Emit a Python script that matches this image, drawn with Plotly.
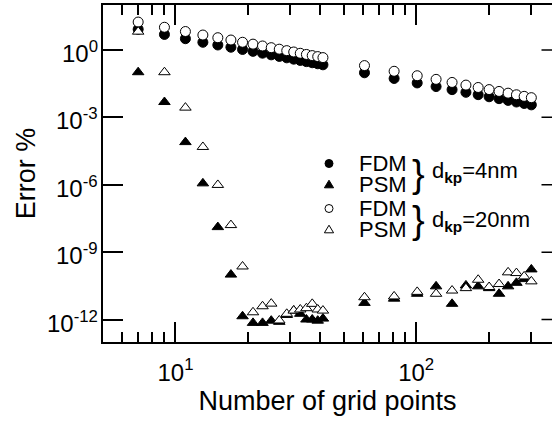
import math
import plotly.graph_objects as go

# ---------------- data ----------------
grid_points = [7, 9, 11, 13, 15, 17, 19, 21, 23, 25, 27, 29, 31, 33, 35, 37, 39, 41,
               61, 81, 101, 121, 141, 161, 181, 201, 221, 241, 261, 281, 301]

fdm_4nm = [8.3, 4.9, 3.16, 2.19, 1.66, 1.32, 1.05, 0.865, 0.718, 0.604, 0.515, 0.445,
           0.388, 0.341, 0.302, 0.269, 0.242, 0.218,
           0.0962, 0.0537, 0.034, 0.0234, 0.0171, 0.013, 0.0102, 0.00824, 0.00678,
           0.00568, 0.00481, 0.00413, 0.00359]

psm_4nm = [0.102, 4.8e-3, 7.9e-5, 1.15e-6, 1.3e-8, 1.0e-10, 1.4e-12, 7.1e-13, 7.1e-13,
           8.9e-13, 7.9e-13, 1.6e-12, 2.5e-12, 1.8e-12, 1.0e-12, 1.0e-12, 8.9e-13, 1.1e-12,
           5.5e-12, 8.5e-12, 1.4e-11, 3.0e-11, 5.0e-12, 3.3e-11, 3.0e-11, 2.5e-11, 1.4e-11,
           3.0e-11, 4.3e-11, 6.3e-11, 1.7e-10]

fdm_20nm = [17.4, 10.2, 6.6, 4.6, 3.5, 2.76, 2.19, 1.81, 1.5, 1.26, 1.08, 0.93, 0.81,
            0.71, 0.63, 0.56, 0.506, 0.456,
            0.201, 0.112, 0.071, 0.049, 0.0357, 0.0272, 0.0213, 0.0172, 0.0142, 0.0119,
            0.0101, 0.0086, 0.0075]

psm_20nm = [6.5, 0.102, 2.7e-3, 4.8e-5, 9.8e-7, 1.6e-8, 2.3e-10, 2.1e-12, 3.9e-12, 5.1e-12,
            9.1e-13, 1.8e-12, 2.5e-12, 2.8e-12, 3.2e-12, 5.0e-12, 2.8e-12, 2.5e-12,
            9.8e-12, 1.07e-11, 1.7e-11, 1.4e-11, 1.95e-11, 2.5e-11, 5.9e-11, 2.8e-11,
            3.8e-11, 1.26e-10, 1.17e-10, 8.3e-11, 5.0e-11]

x_major_ticks = [10, 100]
x_major_text = ["10<sup>1</sup>", "10<sup>2</sup>"]
x_minor_ticks = [6, 7, 8, 9, 20, 30, 40, 50, 60, 70, 80, 90, 200, 300]
y_ticks = [1, 1e-3, 1e-6, 1e-9, 1e-12]
y_ticks_text = ["10<sup>0</sup>", "10<sup>-3</sup>", "10<sup>-6</sup>",
                "10<sup>-9</sup>", "10<sup>-12</sup>"]

x_range = [math.log10(5), 2.5644]
y_range = [-13, 2]

FONT = "Liberation Sans, Arial, Helvetica, sans-serif"

fig = go.Figure()

series = [
    ("FDM d=4nm", fdm_4nm, "circle", "black"),
    ("PSM d=4nm", psm_4nm, "triangle-up", "black"),
    ("FDM d=20nm", fdm_20nm, "circle", "white"),
    ("PSM d=20nm", psm_20nm, "triangle-up", "white"),
]
for name, vals, sym, fill in series:
    fig.add_trace(go.Scatter(
        x=grid_points, y=vals, mode="markers", name=name, showlegend=False,
        marker=dict(symbol=sym, size=10, color=fill,
                    line=dict(color="black", width=1)),
    ))

W, H = 552, 423
ml, mr, mt, mb = 103, 0, 5, 81
pw, ph = W - ml - mr, H - mt - mb


def px2paper(px, py):
    return (px - ml) / pw, (H - mb - py) / ph


shapes = []
annotations = []

# y tick labels and right-side ticks (plot frame extends past the picture's right edge)
for v, t in zip(y_ticks, y_ticks_text):
    yp = (math.log10(v) - y_range[0]) / (y_range[1] - y_range[0])
    shapes.append(dict(type="line", xref="paper", yref="paper",
                       x0=1 - 10.5 / pw, x1=1.05, y0=yp, y1=yp,
                       line=dict(color="black", width=1.5)))
    annotations.append(dict(text=t, x=-3.5 / pw, y=math.log10(v), xref="paper", yref="y",
                            xanchor="right", yanchor="middle", yshift=-2, showarrow=False,
                            font=dict(family=FONT, size=24, color="black")))

# legend markers
leg_x = 329
rows = [163.5, 184.5, 208.5, 229.5]
kinds = [("circle", "black"), ("tri", "black"), ("circle", "white"), ("tri", "white")]
for (kind, fill), ry in zip(kinds, rows):
    xa, ya = px2paper(leg_x, ry)
    if kind == "circle":
        shapes.append(dict(type="circle", xref="paper", yref="paper",
                           xsizemode="pixel", ysizemode="pixel",
                           xanchor=xa, yanchor=ya, x0=-4, x1=4, y0=-4, y1=4,
                           fillcolor=fill, line=dict(color="black", width=1)))
    else:
        shapes.append(dict(type="path", xref="paper", yref="paper",
                           xsizemode="pixel", ysizemode="pixel",
                           xanchor=xa, yanchor=ya,
                           path="M -4.6,-3.3 L 4.6,-3.3 L 0,4.3 Z",
                           fillcolor=fill, line=dict(color="black", width=1)))

for txt, ry in zip(["FDM", "PSM", "FDM", "PSM"], rows):
    xa, ya = px2paper(358, ry)
    annotations.append(dict(text=txt, x=xa, y=ya, xref="paper", yref="paper",
                            xanchor="left", yanchor="middle", showarrow=False,
                            height=19, valign="middle", borderpad=0,
                            font=dict(family=FONT, size=22, color="black")))
for bc, tc, lab in [(174, 172, "d<sub><b>kp</b></sub>=4nm"),
                    (220, 221, "d<sub><b>kp</b></sub>=20nm")]:
    xa, ya = px2paper(418, bc)
    annotations.append(dict(text="}", x=xa, y=ya, xref="paper", yref="paper",
                            xanchor="center", yanchor="middle", showarrow=False,
                            font=dict(family=FONT, size=38, color="black")))
    xa, ya = px2paper(430, tc)
    annotations.append(dict(text=lab, x=xa, y=ya, xref="paper", yref="paper",
                            xanchor="left", yanchor="middle", showarrow=False,
                            font=dict(family=FONT, size=22, color="black")))

fig.update_layout(
    width=W, height=H,
    margin=dict(l=ml, r=mr, t=mt, b=mb, pad=0),
    paper_bgcolor="white", plot_bgcolor="white",
    font=dict(family=FONT, size=24, color="black"),
    shapes=shapes, annotations=annotations,
    xaxis=dict(
        type="log", range=x_range,
        tickmode="array", tickvals=x_major_ticks, ticktext=x_major_text,
        ticks="inside", ticklen=20, tickwidth=1.5, tickcolor="black",
        minor=dict(tickmode="array", tickvals=x_minor_ticks, ticks="inside",
                   ticklen=10, tickwidth=1.5, tickcolor="black", showgrid=False),
        showline=True, linewidth=1.5, linecolor="black", mirror="allticks",
        showgrid=False, zeroline=False,
        tickfont=dict(family=FONT, size=24), ticklabelstandoff=8,
        title=dict(text="Number of grid points", font=dict(family=FONT, size=27),
                   standoff=6),
        automargin=False,
    ),
    yaxis=dict(
        type="log", range=y_range,
        tickmode="array", tickvals=y_ticks, showticklabels=False,
        ticks="inside", ticklen=20, tickwidth=1.5, tickcolor="black",
        showline=True, linewidth=1.5, linecolor="black", mirror=False,
        showgrid=False, zeroline=False,
        title=dict(text="Error %", font=dict(family=FONT, size=27), standoff=58),
        automargin=False,
    ),
)

fig.write_html("out.html", config={"displayModeBar": False},
               post_script="document.body.style.margin='0px';")
